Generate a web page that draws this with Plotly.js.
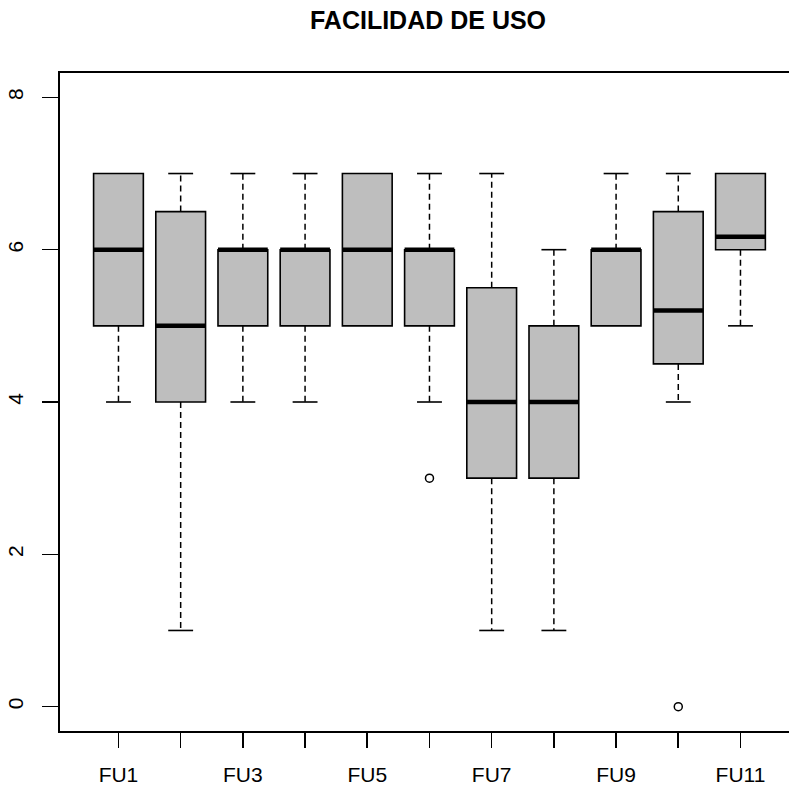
<!DOCTYPE html>
<html>
<head>
<meta charset="utf-8">
<script src="https://cdn.plot.ly/plotly-3.0.1.min.js"></script>
<style>html,body{margin:0;padding:0;background:#fff;}#chart{width:789px;height:787px;}</style>
</head>
<body>
<div id="chart"></div>
<script>
const categories = ['FU1','FU2','FU3','FU4','FU5','FU6','FU7','FU8','FU9','FU10','FU11'];
const lowerWhisker = [4, 1, 4, 4, 5, 4, 1, 1, 5, 4, 5];
const q1Values     = [5, 4, 5, 5, 5, 5, 3, 3, 5, 4.5, 6];
const medians      = [6, 5, 6, 6, 6, 6, 4, 4, 6, 5.2, 6.17];
const q3Values     = [7, 6.5, 6, 6, 7, 6, 5.5, 5, 6, 6.5, 7];
const upperWhisker = [7, 7, 7, 7, 7, 7, 7, 6, 7, 7, 7];
const outlierCategories = ['FU6', 'FU10'];
const outlierValues = [3, 0];
const shownTickLabels = ['FU1','','FU3','','FU5','','FU7','','FU9','','FU11'];
const yTicks = [0, 2, 4, 6, 8];

const pos = categories.map((c, i) => i + 1);
const halfBox = 0.4, halfStaple = 0.2;

const boxTrace = {
  type: 'box', x: pos, q1: q1Values, median: medians, q3: q3Values,
  lowerfence: q1Values, upperfence: q3Values,
  width: 0.8, whiskerwidth: 0, boxpoints: false,
  fillcolor: '#bebebe', line: {color: '#000', width: 1.6},
  hoverinfo: 'skip', showlegend: false
};

const mx = [], my = [];
pos.forEach((p, i) => { mx.push(p - halfBox, p + halfBox, null); my.push(medians[i], medians[i], null); });
const medianTrace = {type: 'scatter', mode: 'lines', x: mx, y: my, line: {color: '#000', width: 4.5}, showlegend: false, hoverinfo: 'skip'};

const wx = [], wy = [];
pos.forEach((p, i) => {
  if (upperWhisker[i] > q3Values[i]) { wx.push(p, p, null); wy.push(q3Values[i], upperWhisker[i], null); }
  if (lowerWhisker[i] < q1Values[i]) { wx.push(p, p, null); wy.push(q1Values[i], lowerWhisker[i], null); }
});
const whiskerTrace = {type: 'scatter', mode: 'lines', x: wx, y: wy, line: {color: '#000', width: 1.5, dash: '6px,4px'}, showlegend: false, hoverinfo: 'skip'};

const sx = [], sy = [];
pos.forEach((p, i) => {
  if (upperWhisker[i] > q3Values[i]) { sx.push(p - halfStaple, p + halfStaple, null); sy.push(upperWhisker[i], upperWhisker[i], null); }
  if (lowerWhisker[i] < q1Values[i]) { sx.push(p - halfStaple, p + halfStaple, null); sy.push(lowerWhisker[i], lowerWhisker[i], null); }
});
const stapleTrace = {type: 'scatter', mode: 'lines', x: sx, y: sy, line: {color: '#000', width: 1.6}, showlegend: false, hoverinfo: 'skip'};

const outlierTrace = {
  type: 'scatter', mode: 'markers',
  x: outlierCategories.map(c => categories.indexOf(c) + 1), y: outlierValues,
  marker: {symbol: 'circle-open', size: 8, color: '#000', line: {width: 1.5, color: '#000'}},
  showlegend: false, hoverinfo: 'skip'
};

const font = 'Liberation Sans, Arial, sans-serif';
const layout = {
  width: 789, height: 787,
  margin: {l: 60, r: 0, t: 73, b: 56},
  paper_bgcolor: '#fff', plot_bgcolor: '#fff',
  boxmode: 'overlay', showlegend: false,
  title: {text: '<b>FACILIDAD DE USO</b>', font: {family: font, size: 25, color: '#000'},
          x: 428 / 789, xanchor: 'center', xref: 'container', y: 1 - 20 / 787, yref: 'container', yanchor: 'middle'},
  xaxis: {
    range: [0.06, 11.78], showgrid: false, zeroline: false,
    showline: true, linecolor: '#000', linewidth: 1.6, mirror: true,
    ticks: 'outside', ticklen: 15, tickwidth: 1.6, tickcolor: '#000',
    tickmode: 'array', tickvals: pos, ticktext: shownTickLabels,
    tickfont: {family: font, size: 21, color: '#000'}, ticklabelstandoff: 9
  },
  yaxis: {
    range: [-0.32, 8.32], showgrid: false, zeroline: false,
    showline: true, linecolor: '#000', linewidth: 1.6, mirror: false,
    ticks: 'outside', ticklen: 16, tickwidth: 1.6, tickcolor: '#000',
    tickmode: 'array', tickvals: yTicks, ticktext: yTicks.map(String), tickangle: -90,
    tickfont: {family: font, size: 21, color: '#000'}, ticklabelstandoff: 11
  }
};

Plotly.newPlot('chart', [boxTrace, whiskerTrace, stapleTrace, medianTrace, outlierTrace], layout, {staticPlot: true, displayModeBar: false});
</script>
</body>
</html>
